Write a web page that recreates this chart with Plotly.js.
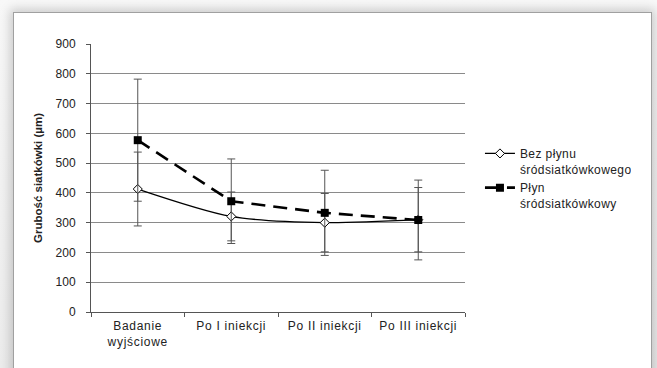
<!DOCTYPE html>
<html>
<head>
<meta charset="utf-8">
<script src="https://cdn.plot.ly/plotly-3.0.1.min.js"></script>
<style>
html,body{margin:0;padding:0;width:657px;height:368px;overflow:hidden;background:#f4f4f4;}
#bg{position:absolute;left:0;top:0;width:657px;height:368px;background:linear-gradient(#f8f8f8,#ececec);}
#card{position:absolute;left:13px;top:12px;width:637px;height:380px;background:#fff;border:1px solid #a0a0a0;box-shadow:0 0 10px 3px rgba(0,0,0,0.18);}
#chart{position:absolute;left:0;top:0;width:657px;height:368px;}
#chart .xtick text{letter-spacing:0.7px;}
#chart .legendtext{letter-spacing:0.4px;}
</style>
</head>
<body>
<div id="bg"></div>
<div id="card"></div>
<div id="chart"></div>
<script>
var categories = ["Badanie<br>wyjściowe", "Po I iniekcji", "Po II iniekcji", "Po III iniekcji"];
var seriesNames = ["Bez płynu<br>śródsiatkówkowego", "Płyn<br>śródsiatkówkowy"];
var bezPlynu = [413, 321, 300, 310];
var bezPlynuErr = [124, 82, 98, 108];
var plyn = [577, 372, 333, 309];
var plynErr = [205, 142, 143, 134];
var yTicks = [0, 100, 200, 300, 400, 500, 600, 700, 800, 900];

var traces = [
  {
    x: categories, y: bezPlynu, name: seriesNames[0], type: "scatter", mode: "lines+markers",
    line: {color: "#000", width: 1.3, shape: "spline", smoothing: 0.8},
    marker: {symbol: "diamond", size: 7, color: "#fff", line: {color: "#000", width: 1}},
    error_y: {type: "data", array: bezPlynuErr, visible: true, color: "#555", thickness: 1, width: 4}
  },
  {
    x: categories, y: plyn, name: seriesNames[1], type: "scatter", mode: "lines+markers",
    line: {color: "#000", width: 2.6, dash: "14px,8px"},
    marker: {symbol: "square", size: 8, color: "#000"},
    error_y: {type: "data", array: plynErr, visible: true, color: "#555", thickness: 1, width: 4}
  }
];

var layout = {
  width: 657, height: 368,
  margin: {l: 91, r: 192, t: 44, b: 56},
  paper_bgcolor: "rgba(0,0,0,0)",
  plot_bgcolor: "rgba(0,0,0,0)",
  font: {family: "Liberation Sans, Arial, sans-serif", size: 12, color: "#222"},
  showlegend: true,
  legend: {x: 1.04, y: 0.645, xanchor: "left", yanchor: "top", valign: "top",
           font: {size: 12, color: "#222"},
           bgcolor: "rgba(0,0,0,0)", tracegroupgap: 2, itemwidth: 30},
  xaxis: {
    type: "category", tickson: "boundaries", ticks: "outside", ticklen: 4, tickcolor: "#555",
    showline: true, linecolor: "#555", linewidth: 1, showgrid: false, zeroline: false,
    tickfont: {size: 12, color: "#222"}, range: [-0.5, 3.5], ticklabelstandoff: 3
  },
  yaxis: {
    range: [0, 900], tickvals: yTicks, ticks: "outside", ticklen: 4, tickcolor: "#555",
    showline: true, linecolor: "#555", linewidth: 1, showgrid: true, gridcolor: "#8a8a8a", gridwidth: 1,
    zeroline: false, tickfont: {size: 12, color: "#222"}, ticklabelstandoff: 8,
    title: {text: "<b>Grubość siatkówki (µm)</b>", font: {size: 11.5, color: "#222"}, standoff: 10}
  }
};

Plotly.newPlot("chart", traces, layout, {displayModeBar: false, staticPlot: true});
</script>
</body>
</html>
